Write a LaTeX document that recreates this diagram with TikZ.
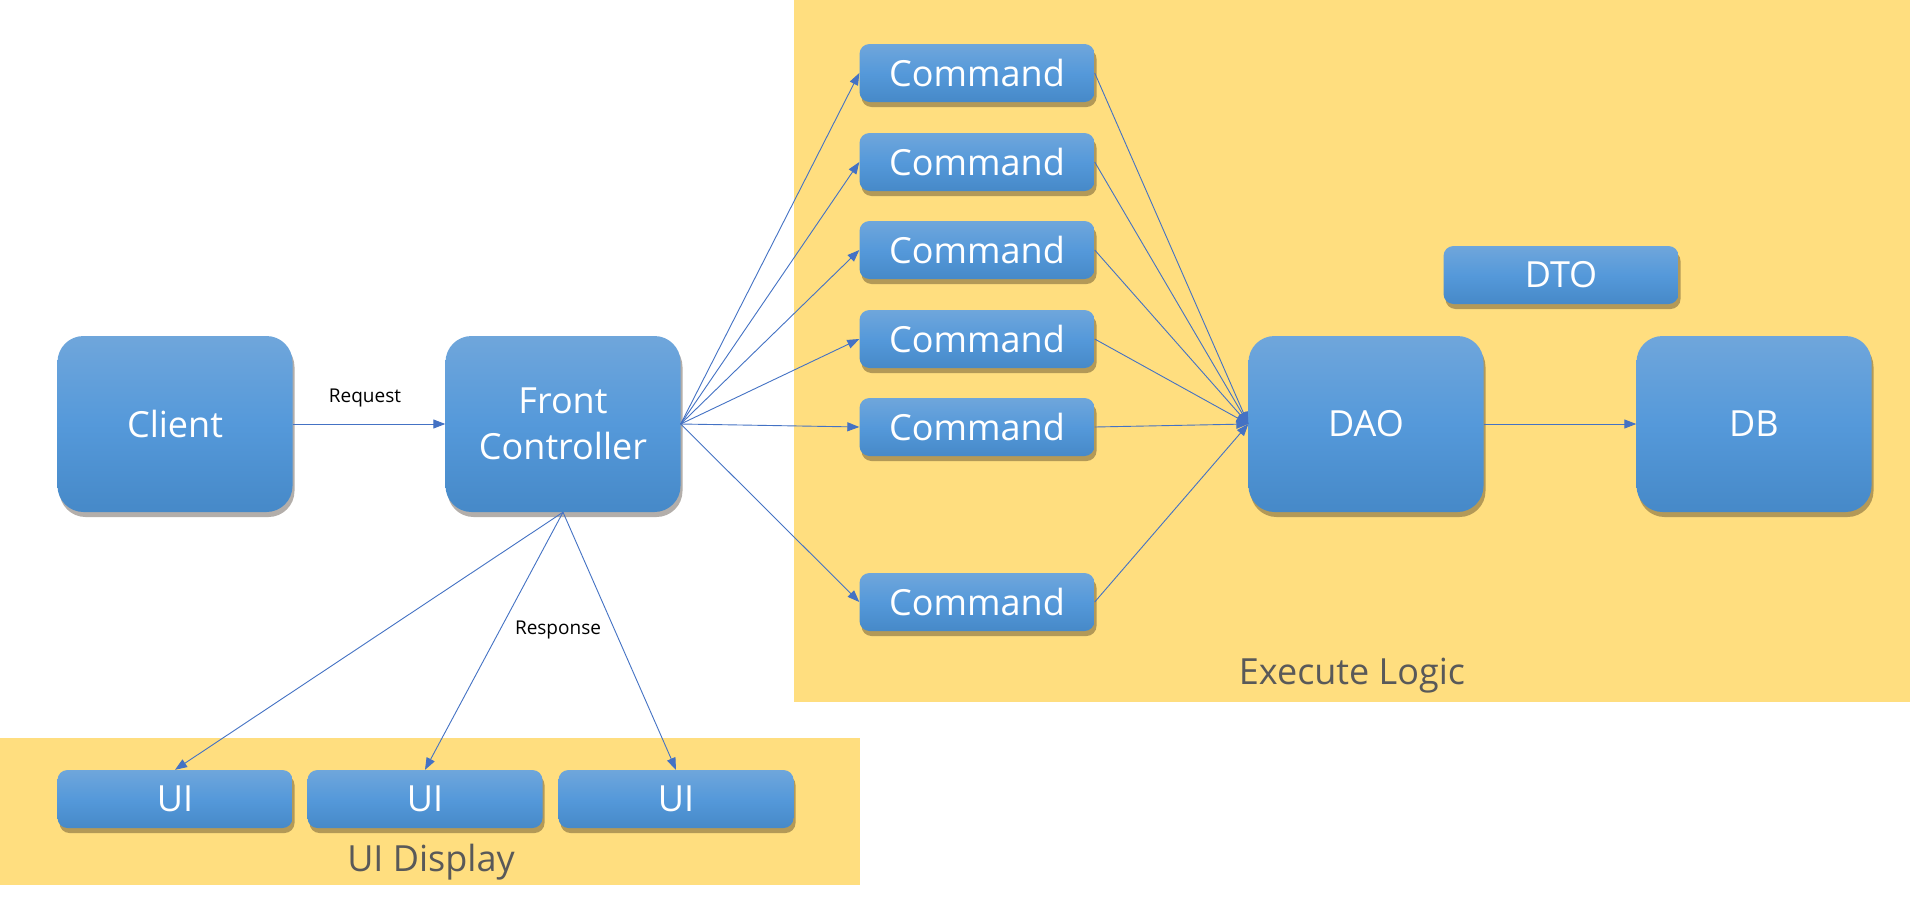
\documentclass[tikz,border=0pt]{standalone}
\usepackage{fontspec}
\setmainfont{Open Sans}
\usetikzlibrary{shadows,arrows.meta}
\definecolor{bgy}{HTML}{FFDE7F}
\definecolor{ln}{HTML}{4472C4}
\definecolor{gtop}{HTML}{6FA6DB}
\definecolor{gmid}{HTML}{5599DA}
\definecolor{gbot}{HTML}{4689C8}
\definecolor{lbl}{HTML}{595959}
\tikzset{
  boxbase/.style={top color=gtop, bottom color=gbot, middle color=gmid,
    draw=none, text=white, font=\fontsize{36}{46}\selectfont, inner sep=0pt, align=center,
    drop shadow={shadow xshift=2pt, shadow yshift=-5pt, opacity=0.35, fill=black!80!brown}},
  bigbox/.style={boxbase, rounded corners=26pt, minimum width=235pt, minimum height=176pt},
  smallbox/.style={boxbase, rounded corners=10pt, minimum width=235pt, minimum height=58pt},
  conn/.style={draw=ln, line width=0.9pt, -{Triangle[length=12pt,width=9pt]}},
  edgelabel/.style={font=\fontsize{19}{22}\selectfont, text=black},
  arealabel/.style={font=\fontsize{36}{40}\selectfont, text=lbl}
}
\begin{document}
\begin{tikzpicture}[x=1pt,y=-1pt]
\useasboundingbox (0,0) rectangle (1910,902);
\fill[white] (0,0) rectangle (1910,902);
% backgrounds
\fill[bgy] (794,0) rectangle (1910,702);
\fill[bgy] (0,738) rectangle (860,885);
\node[arealabel] (exlbl) at (1352,676) {Execute Logic};
\node[arealabel] (uilbl) at (431,862) {UI Display};
% boxes
\node[bigbox] (client) at (175,424) {Client};
\node[bigbox] (fc) at (563,424) {Front\\Controller};
\node[smallbox] (c1) at (977,73) {Command};
\node[smallbox] (c2) at (977,162) {Command};
\node[smallbox] (c3) at (977,250) {Command};
\node[smallbox] (c4) at (977,339) {Command};
\node[smallbox] (c5) at (977,427) {Command};
\node[smallbox] (c6) at (977,602) {Command};
\node[smallbox] (dto) at (1561,275) {DTO};
\node[bigbox] (dao) at (1366,424) {DAO};
\node[bigbox] (db) at (1754,424) {DB};
\node[smallbox] (ui1) at (175,799) {UI};
\node[smallbox] (ui2) at (425,799) {UI};
\node[smallbox] (ui3) at (676,799) {UI};
% connectors
\draw[conn] (client.east) -- (fc.west);
\node[edgelabel] (req) at (365,398) {Request};
\foreach \c in {c1,c2,c3,c4,c5,c6}{
  \draw[conn] (fc.east) -- (\c.west);
  \draw[conn] (\c.east) -- (dao.west);
}
\draw[conn] (dao.east) -- (db.west);
\foreach \u in {ui1,ui2,ui3}{
  \draw[conn] (fc.south) -- (\u.north);
}
\node[edgelabel] (resp) at (558,630) {Response};
\end{tikzpicture}
\end{document}
